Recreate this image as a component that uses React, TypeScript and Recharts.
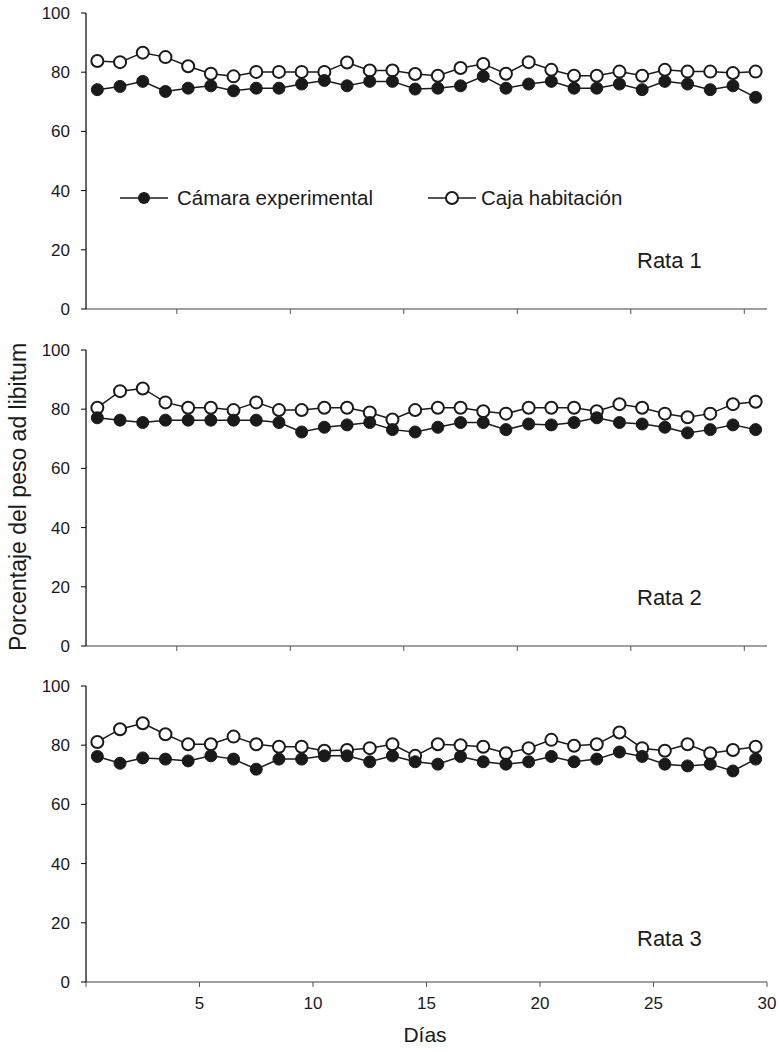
import { LineChart, Line, XAxis, YAxis } from 'recharts'

const days = [1, 2, 3, 4, 5, 6, 7, 8, 9, 10, 11, 12, 13, 14, 15, 16, 17, 18, 19, 20, 21, 22, 23, 24, 25, 26, 27, 28, 29, 30]

const rata1Camara = [74.1, 75.2, 76.9, 73.5, 74.6, 75.4, 73.7, 74.6, 74.6, 76.0, 77.2, 75.4, 76.9, 76.9, 74.3, 74.6, 75.4, 78.6, 74.6, 76.0, 76.9, 74.6, 74.6, 76.0, 74.1, 76.9, 76.0, 74.1, 75.4, 71.5]
const rata1Caja = [83.8, 83.4, 86.6, 85.1, 82.0, 79.5, 78.6, 80.1, 80.1, 80.1, 80.1, 83.3, 80.6, 80.6, 79.4, 78.8, 81.4, 82.8, 79.5, 83.4, 80.8, 78.8, 78.8, 80.2, 78.8, 80.8, 80.2, 80.2, 79.7, 80.2]

const rata2Camara = [77.1, 76.3, 75.5, 76.3, 76.3, 76.3, 76.3, 76.3, 75.5, 72.3, 73.9, 74.7, 75.5, 73.1, 72.3, 73.9, 75.5, 75.5, 73.1, 75.0, 74.7, 75.5, 77.1, 75.5, 75.0, 73.9, 72.0, 73.1, 74.7, 73.1]
const rata2Caja = [80.5, 86.1, 87.0, 82.3, 80.5, 80.5, 79.7, 82.3, 79.7, 79.7, 80.5, 80.5, 78.9, 76.5, 79.7, 80.5, 80.5, 79.3, 78.5, 80.5, 80.5, 80.5, 79.3, 81.7, 80.5, 78.5, 77.3, 78.5, 81.7, 82.5]

const rata3Camara = [76.2, 73.9, 75.7, 75.3, 74.7, 76.4, 75.3, 71.9, 75.3, 75.3, 76.4, 76.4, 74.4, 76.4, 74.4, 73.6, 76.2, 74.4, 73.6, 74.4, 76.2, 74.4, 75.3, 77.7, 76.2, 73.6, 73.0, 73.6, 71.3, 75.3]
const rata3Caja = [81.1, 85.4, 87.4, 83.7, 80.3, 80.3, 82.9, 80.3, 79.5, 79.5, 78.1, 78.4, 79.0, 80.3, 76.4, 80.3, 80.0, 79.5, 77.3, 79.0, 81.8, 79.8, 80.3, 84.3, 79.0, 78.1, 80.3, 77.3, 78.4, 79.5]

const yTicks = [0, 20, 40, 60, 80, 100]
const xTicksBottom = [0, 5, 10, 15, 20, 25, 30]
const xTicksTop = [4, 9, 14, 19, 24, 29]

const FONT = '"Liberation Sans", Arial, sans-serif'
const INK = '#1a1a1a'

function buildRows(camara: number[], caja: number[]) {
  return days.map((d, i) => ({ x: d - 0.5, camara: camara[i], caja: caja[i] }))
}

// legend sits inside the top panel, drawn as an overlay
function LegendBox() {
  return (
    <svg
      width={560}
      height={26}
      style={{ position: 'absolute', left: 112, top: 186, overflow: 'visible' }}
    >
      <line x1={8} y1={12} x2={56} y2={12} stroke={INK} strokeWidth={1.5} />
      <circle cx={32} cy={12} r={6} fill={INK} />
      <text x={65} y={19} fontSize={20.5} fontFamily={FONT} fill={INK}>
        Cámara experimental
      </text>
      <line x1={316} y1={12} x2={364} y2={12} stroke={INK} strokeWidth={1.5} />
      <circle cx={340} cy={12} r={6} fill='#fff' stroke={INK} strokeWidth={2} />
      <text x={369} y={19} fontSize={20.5} fontFamily={FONT} fill={INK}>
        Caja habitación
      </text>
    </svg>
  )
}

interface PanelProps {
  camara: number[]
  caja: number[]
  top: number
  bottomAxis?: boolean
}

function Panel({ camara, caja, top, bottomAxis }: PanelProps) {
  const axisH = bottomAxis ? 70 : 20
  const height = 13 + 296 + axisH
  return (
    <div style={{ position: 'absolute', left: 0, top }}>
      <LineChart
        width={778}
        height={height}
        data={buildRows(camara, caja)}
        margin={{ top: 13, right: 11, bottom: 0, left: 0 }}
      >
        <XAxis
          dataKey='x'
          type='number'
          domain={[0, 30]}
          ticks={bottomAxis ? xTicksBottom : xTicksTop}
          tickFormatter={(v) => (bottomAxis && v !== 0 ? String(v) : '')}
          height={axisH}
          tickSize={5}
          tickMargin={10}
          axisLine={{ stroke: '#808080', strokeWidth: 1.5 }}
          tickLine={{ stroke: '#555' }}
          tick={{ fontSize: 17, fill: INK, fontFamily: FONT }}
          allowDataOverflow
        />
        <YAxis
          domain={[0, 100]}
          ticks={yTicks}
          width={86}
          tickSize={5}
          tickMargin={11}
          axisLine={{ stroke: '#000', strokeWidth: 1.2 }}
          tickLine={{ stroke: '#000' }}
          tick={{ fontSize: 17, fill: INK, fontFamily: FONT }}
        />
        <Line
          dataKey='caja'
          stroke={INK}
          strokeWidth={1.5}
          dot={{ r: 6, fill: '#fff', stroke: INK, strokeWidth: 2 }}
          isAnimationActive={false}
        />
        <Line
          dataKey='camara'
          stroke={INK}
          strokeWidth={1.5}
          dot={{ r: 6, fill: INK, stroke: INK, strokeWidth: 1 }}
          isAnimationActive={false}
        />
      </LineChart>
    </div>
  )
}

const ratLabel = (text: string, top: number) => (
  <div
    style={{
      position: 'absolute',
      left: 637,
      top,
      fontSize: 22,
      fontFamily: FONT,
      color: INK,
    }}
  >
    {text}
  </div>
)

export default function App() {
  return (
    <div
      style={{
        position: 'absolute',
        left: 0,
        top: 0,
        width: 778,
        height: 1052,
        background: '#fff',
        fontFamily: FONT,
      }}
    >
      <Panel camara={rata1Camara} caja={rata1Caja} top={0} />
      <Panel camara={rata2Camara} caja={rata2Caja} top={337} />
      <Panel camara={rata3Camara} caja={rata3Caja} top={673} bottomAxis />
      <LegendBox />
      {ratLabel('Rata 1', 248)}
      {ratLabel('Rata 2', 585)}
      {ratLabel('Rata 3', 926)}
      <div
        style={{
          position: 'absolute',
          left: 18,
          top: 497,
          transform: 'translate(-50%, -50%) rotate(-90deg)',
          whiteSpace: 'nowrap',
          fontSize: 23,
          color: INK,
        }}
      >
        Porcentaje del peso ad libitum
      </div>
      <div
        style={{
          position: 'absolute',
          left: 425,
          top: 1035,
          transform: 'translate(-50%, -50%)',
          fontSize: 21,
          color: INK,
        }}
      >
        Días
      </div>
    </div>
  )
}
